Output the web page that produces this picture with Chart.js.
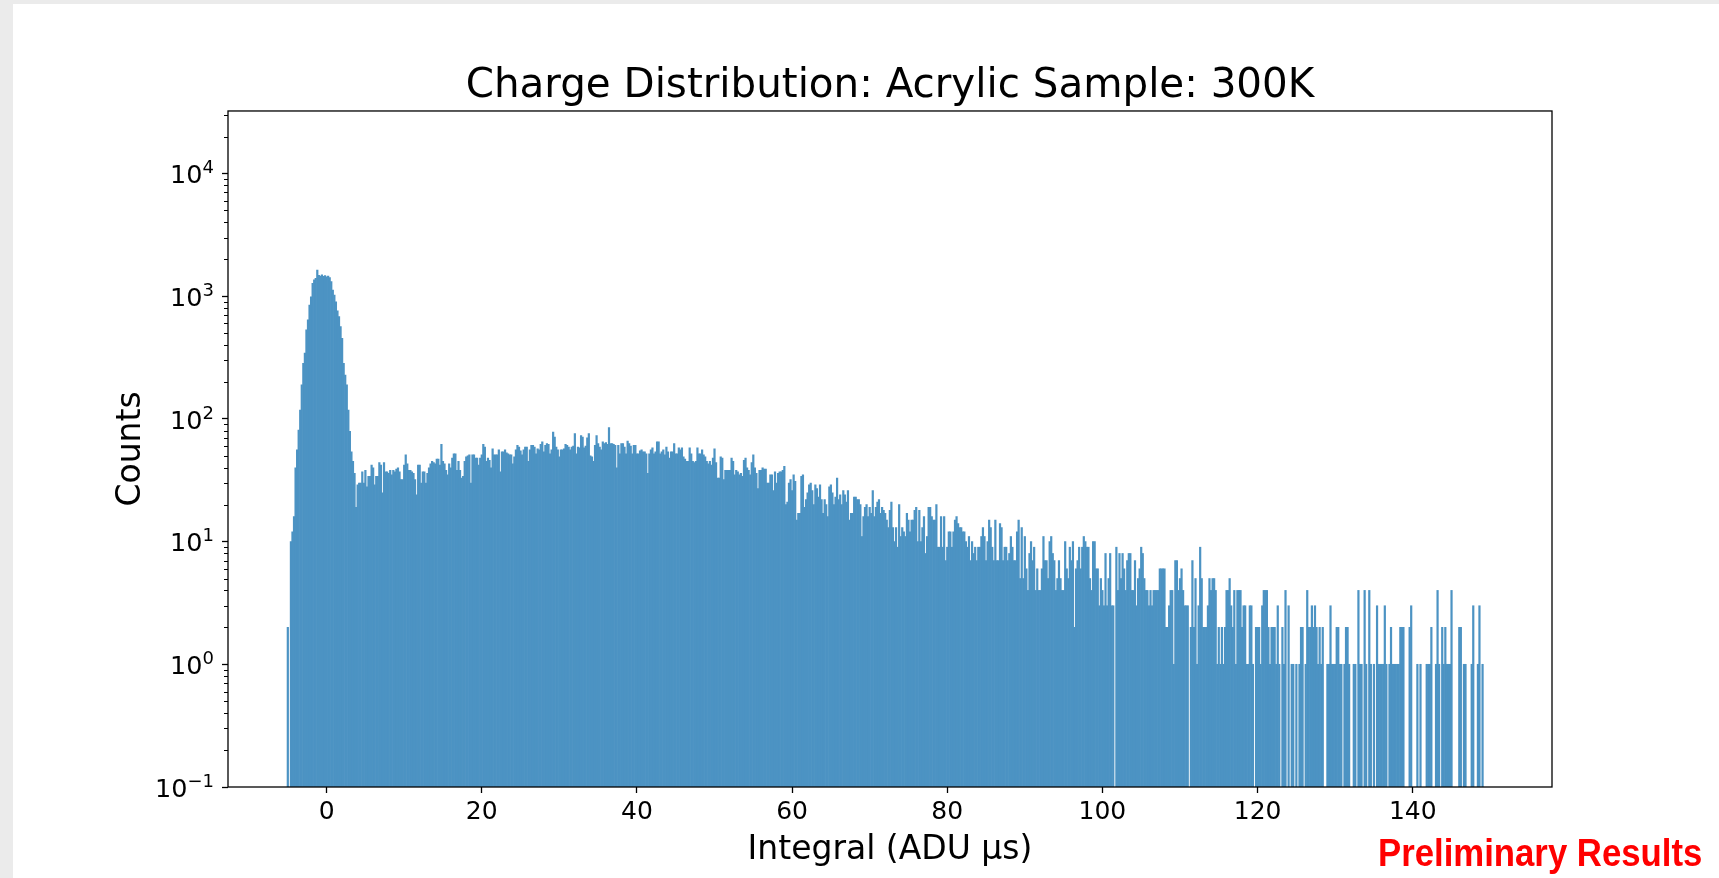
<!DOCTYPE html>
<html>
<head>
<meta charset="utf-8">
<title>Charge Distribution</title>
<script src="https://cdn.jsdelivr.net/npm/chart.js@4.4.0/dist/chart.umd.min.js"></script>
<style>
  html, body { margin: 0; padding: 0; background: #ebebeb; }
  body { width: 1719px; height: 878px; position: relative; overflow: hidden; }
  #panel { position: absolute; left: 13px; top: 4px; right: 0; bottom: 0; background: #fff; }
  #chart { position: absolute; left: 0; top: 0; }
  #stamp {
    position: absolute; left: 1378px; top: 834px;
    font: bold 38px "Liberation Sans", Arial, sans-serif; line-height: 38px;
    color: #ff0000; white-space: nowrap;
    transform-origin: 0 0; transform: scaleX(0.914);
  }
</style>
</head>
<body>
<div id="panel"></div>
<canvas id="chart" width="1719" height="878"></canvas>
<div id="stamp">Preliminary Results</div>
<script>
// Histogram bins: first bin starts at binStart, every bin is binWidth wide
const binStart = -5.1
const binWidth = 0.2

// Counts per bin (log scale)
const counts = [
  2, 0, 10, 12, 16, 40, 56, 81, 118, 189,
  284, 343, 531, 640, 847, 990, 1274, 1356, 1400, 1630,
  1480, 1460, 1490, 1450, 1470, 1440, 1460, 1420, 1313, 1123,
  1023, 900, 760, 681, 565, 454, 284, 228, 189, 118,
  79, 54, 45, 36, 19, 29, 30, 30, 37, 30,
  38, 28, 34, 34, 42, 40, 29, 34, 34, 44,
  42, 25, 44, 37, 37, 36, 38, 35, 38, 37,
  39, 40, 37, 32, 32, 42, 51, 43, 38, 38,
  37, 36, 32, 24, 42, 42, 30, 37, 37, 30,
  36, 40, 43, 45, 44, 43, 47, 47, 42, 62,
  45, 43, 38, 35, 43, 40, 48, 52, 52, 38,
  45, 38, 33, 34, 45, 49, 50, 51, 30, 51,
  51, 48, 48, 42, 48, 51, 62, 59, 45, 48,
  46, 40, 57, 51, 51, 51, 56, 37, 54, 54,
  56, 53, 52, 51, 51, 43, 49, 56, 61, 59,
  55, 51, 56, 59, 59, 45, 56, 61, 61, 59,
  52, 57, 56, 62, 65, 54, 61, 63, 62, 52,
  56, 78, 71, 59, 56, 49, 56, 56, 57, 62,
  61, 59, 56, 59, 60, 76, 52, 59, 58, 73,
  71, 58, 60, 70, 76, 50, 49, 45, 61, 73,
  63, 59, 56, 65, 63, 64, 62, 85, 63, 63,
  62, 61, 40, 61, 52, 63, 63, 59, 52, 66,
  63, 60, 52, 61, 61, 52, 52, 55, 56, 54,
  54, 52, 36, 52, 56, 58, 52, 54, 65, 65,
  52, 54, 56, 51, 59, 54, 48, 54, 54, 63,
  52, 52, 58, 56, 58, 49, 47, 45, 45, 58,
  52, 45, 44, 45, 58, 52, 52, 56, 51, 49,
  45, 43, 45, 42, 48, 57, 44, 33, 33, 49,
  48, 32, 38, 38, 38, 38, 48, 45, 35, 38,
  37, 35, 36, 34, 46, 48, 40, 38, 35, 44,
  51, 40, 36, 27, 38, 38, 40, 39, 39, 30,
  30, 35, 35, 26, 37, 30, 36, 37, 37, 38,
  41, 20, 21, 30, 32, 26, 35, 31, 15, 17,
  17, 34, 35, 19, 22, 25, 29, 30, 26, 20,
  29, 27, 23, 29, 22, 17, 22, 20, 16, 28,
  29, 25, 20, 23, 33, 22, 24, 20, 26, 24,
  21, 26, 15, 17, 17, 23, 23, 22, 22, 20,
  11, 16, 19, 20, 16, 19, 17, 26, 16, 19,
  21, 22, 17, 19, 18, 17, 15, 13, 18, 21,
  13, 10, 13, 9, 20, 11, 13, 12, 11, 17,
  15, 12, 15, 15, 18, 19, 10, 18, 10, 13,
  16, 8, 11, 19, 19, 16, 15, 15, 20, 9,
  9, 16, 9, 16, 7, 9, 12, 12, 9, 12,
  15, 16, 14, 13, 13, 12, 12, 10, 9, 11,
  7, 10, 8, 9, 7, 9, 9, 11, 13, 11,
  7, 10, 15, 13, 9, 7, 15, 7, 7, 14,
  13, 7, 9, 9, 7, 8, 11, 9, 7, 7,
  12, 15, 5, 13, 5, 11, 6, 4, 8, 10,
  7, 9, 4, 6, 4, 4, 6, 11, 7, 7,
  5, 10, 11, 8, 7, 4, 5, 7, 5, 4,
  4, 10, 6, 5, 9, 7, 10, 2, 6, 7,
  9, 6, 9, 11, 10, 9, 9, 5, 4, 10,
  10, 6, 6, 3, 5, 4, 3, 8, 3, 5,
  8, 3, 3, 0, 9, 4, 8, 5, 8, 6,
  4, 7, 8, 8, 4, 4, 7, 3, 5, 6,
  9, 8, 5, 4, 4, 3, 4, 3, 4, 4,
  4, 4, 6, 6, 6, 6, 2, 2, 3, 4,
  4, 1, 7, 7, 4, 5, 6, 4, 3, 3,
  3, 0, 2, 7, 2, 5, 1, 3, 9, 5,
  2, 2, 2, 3, 5, 4, 5, 5, 4, 1,
  2, 1, 2, 1, 2, 4, 4, 5, 3, 2,
  4, 1, 4, 4, 4, 2, 3, 3, 1, 1,
  3, 3, 1, 0, 2, 2, 2, 1, 3, 4,
  4, 4, 2, 1, 2, 2, 2, 1, 3, 1,
  0, 2, 1, 4, 0, 3, 0, 1, 1, 0,
  1, 0, 1, 2, 2, 0, 1, 4, 2, 2,
  3, 2, 3, 2, 1, 2, 1, 2, 0, 0,
  1, 1, 3, 1, 1, 1, 2, 2, 1, 1,
  0, 1, 2, 2, 1, 0, 0, 1, 1, 0,
  4, 1, 1, 0, 4, 1, 0, 4, 1, 0,
  1, 0, 3, 1, 1, 1, 1, 3, 1, 0,
  1, 2, 1, 1, 1, 1, 1, 2, 2, 2,
  0, 0, 0, 2, 3, 0, 0, 0, 1, 0,
  1, 0, 0, 0, 1, 1, 1, 2, 0, 0,
  1, 4, 1, 0, 2, 1, 2, 1, 1, 1,
  4, 0, 0, 0, 0, 2, 2, 0, 1, 1,
  0, 0, 0, 1, 3, 0, 0, 1, 3, 0,
  1
]

const xTicks = [0, 20, 40, 60, 80, 100, 120, 140]
const yTicks = [0.1, 1, 10, 100, 1000, 10000]
// y labels are drawn as base + raised exponent, like matplotlib's mathtext
const yTickBase = "10"
const yTickExponents = ["−1", "0", "1", "2", "3", "4"]

// empty bins get no bar on the log axis
const barData = counts.map((c, i) => ({
  x: binStart + binWidth * (i + 0.5),
  y: c > 0 ? c : null,
}))

// matplotlib-like box around the axes, minor log ticks and 10^n labels
const axesFrame = {
  id: "axesFrame",
  afterDatasetsDraw(chart) {
    const { ctx, chartArea: a, scales } = chart
    const y = scales.y
    ctx.save()
    ctx.strokeStyle = "#000"
    ctx.lineWidth = 1.3
    ctx.strokeRect(a.left, a.top, a.right - a.left, a.bottom - a.top)

    ctx.lineWidth = 1
    ctx.beginPath()
    for (let k = -1; k <= 4; k++) {
      for (let m = 2; m <= 9; m++) {
        const v = m * Math.pow(10, k)
        if (v > y.max) continue
        const py = Math.round(y.getPixelForValue(v)) + 0.5
        ctx.moveTo(a.left, py)
        ctx.lineTo(a.left - 4, py)
      }
    }
    ctx.stroke()

    ctx.fillStyle = "#000"
    ctx.textBaseline = "alphabetic"
    ctx.textAlign = "left"
    const right = a.left - 14
    yTicks.forEach((v, i) => {
      const base = y.getPixelForValue(v) + 9.8
      ctx.font = "18px 'DejaVu Sans'"
      const expW = ctx.measureText(yTickExponents[i]).width
      ctx.fillText(yTickExponents[i], right - expW, base - 10)
      ctx.font = "25.5px 'DejaVu Sans'"
      const baseW = ctx.measureText(yTickBase).width
      ctx.fillText(yTickBase, right - expW - baseW, base)
    })
    ctx.restore()
  },
}

Chart.defaults.font.family = "'DejaVu Sans', sans-serif"
Chart.defaults.color = "#000"

new Chart(document.getElementById("chart"), {
  type: "bar",
  data: {
    datasets: [
      {
        data: barData,
        backgroundColor: "#4c93c3",
        borderWidth: 0,
        barPercentage: 1,
        categoryPercentage: 1,
      },
    ],
  },
  options: {
    responsive: false,
    animation: false,
    layout: { padding: { left: 80, right: 167, top: 0, bottom: 0 } },
    plugins: {
      legend: { display: false },
      tooltip: { enabled: false },
      title: {
        display: true,
        text: "Charge Distribution: Acrylic Sample: 300K",
        fullSize: false,
        color: "#000",
        font: { size: 40.4, weight: "normal" },
        padding: { top: 62, bottom: 0.5 },
      },
    },
    scales: {
      x: {
        type: "linear",
        min: -12.71,
        max: 157.95,
        offset: false,
        afterBuildTicks: (s) => {
          s.ticks = xTicks.map((v) => ({ value: v }))
        },
        afterFit: (s) => {
          s.height = 91
        },
        ticks: {
          font: { size: 25 },
          color: "#000",
          padding: 4,
          autoSkip: false,
          maxRotation: 0,
          callback: (v) => String(v),
        },
        grid: { offset: false, drawOnChartArea: false, tickLength: 6, tickColor: "#000", tickWidth: 1.3 },
        border: { display: false },
        title: {
          display: true,
          text: "Integral (ADU µs)",
          color: "#000",
          font: { size: 33 },
          padding: { top: 0, bottom: 8 },
        },
      },
      y: {
        type: "logarithmic",
        min: 0.1,
        max: 32300,
        afterBuildTicks: (s) => {
          s.ticks = yTicks.map((v) => ({ value: v }))
        },
        afterFit: (s) => {
          s.width = 148
        },
        ticks: {
          autoSkip: false,
          callback: () => "",
        },
        grid: { drawOnChartArea: false, tickLength: 6, tickColor: "#000", tickWidth: 1.3 },
        border: { display: false },
        title: {
          display: true,
          text: "Counts",
          color: "#000",
          font: { size: 33 },
          padding: { top: 32, bottom: 0 },
        },
      },
    },
  },
  plugins: [axesFrame],
})
</script>
</body>
</html>
